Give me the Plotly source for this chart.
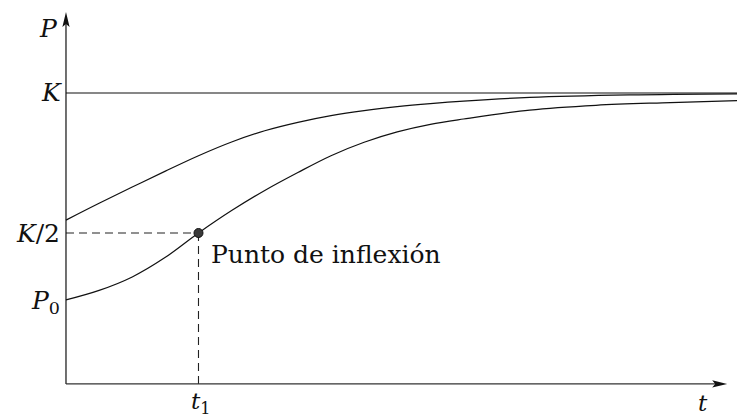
import plotly.graph_objects as go

# Logistic growth: two solutions approaching the carrying capacity K.
# P is expressed in units of K, t in arbitrary time units.
t_upper = [0, 0.5, 1, 1.5, 2, 2.5, 3, 3.5, 4, 4.5, 5, 5.5, 6, 7, 8.5, 10.2]
p_upper = [0.546, 0.606, 0.664, 0.721, 0.776, 0.825, 0.865, 0.895, 0.919,
           0.937, 0.951, 0.962, 0.971, 0.984, 0.993, 0.997]

t_lower = [0, 0.5, 1, 1.5, 2, 2.5, 3, 3.5, 4, 4.5, 5, 5.5, 6, 7, 8, 9, 10.2]
p_lower = [0.261, 0.295, 0.343, 0.413, 0.500, 0.580, 0.652, 0.716, 0.776,
           0.824, 0.861, 0.888, 0.907, 0.939, 0.956, 0.965, 0.973]

K = 1.0
t1 = 2.0            # time of the inflection point
P_half = K / 2
P0 = p_lower[0]

# axis extents
t_range = [-0.996, 10.128]
p_range = [-0.157, 1.332]
axis_p = -0.039      # height of the t axis
t_axis_end = 9.98
p_axis_end = 1.289

# pixel sizes converted into data units (66.25 px per t, 280 px per P)
PX_T = 66.25
PX_P = 280.0

FONT = "DejaVu Serif"
INK = "#111111"

fig = go.Figure()

# carrying capacity
fig.add_trace(go.Scatter(x=[0, t_range[1] + 0.5], y=[K, K], mode="lines",
                         line=dict(color=INK, width=1.1), hoverinfo="skip"))

# guide lines to the inflection point
fig.add_trace(go.Scatter(x=[0, t1], y=[P_half, P_half], mode="lines",
                         line=dict(color="#222222", width=1.1, dash="8px,5px"),
                         hoverinfo="skip"))
fig.add_trace(go.Scatter(x=[t1, t1], y=[P_half, axis_p], mode="lines",
                         line=dict(color="#222222", width=1.1, dash="8px,5px"),
                         hoverinfo="skip"))

# the two solution curves
fig.add_trace(go.Scatter(x=t_upper, y=p_upper, mode="lines",
                         line=dict(color=INK, width=1.2, shape="spline", smoothing=1.0),
                         hoverinfo="skip"))
fig.add_trace(go.Scatter(x=t_lower, y=p_lower, mode="lines",
                         line=dict(color=INK, width=1.2, shape="spline", smoothing=1.0),
                         hoverinfo="skip"))

# axes
fig.add_trace(go.Scatter(x=[0, 0], y=[axis_p, p_axis_end - 10 / PX_P], mode="lines",
                         line=dict(color=INK, width=1.2), hoverinfo="skip"))
fig.add_trace(go.Scatter(x=[0, t_axis_end - 10 / PX_T], y=[axis_p, axis_p], mode="lines",
                         line=dict(color="#333333", width=1.2), hoverinfo="skip"))

# inflection point marker
fig.add_trace(go.Scatter(x=[t1], y=[P_half], mode="markers",
                         marker=dict(size=9, color="#3a3a3a",
                                     line=dict(color="#111111", width=1)),
                         hoverinfo="skip"))

# arrow heads
hl, hw = 15.0, 3.6
fig.add_shape(type="path", xref="x", yref="y", fillcolor=INK, line=dict(width=0),
              path=(f"M{t_axis_end},{axis_p} "
                    f"L{t_axis_end - hl / PX_T},{axis_p + hw / PX_P} "
                    f"L{t_axis_end - 0.8 * hl / PX_T},{axis_p} "
                    f"L{t_axis_end - hl / PX_T},{axis_p - hw / PX_P} Z"))
fig.add_shape(type="path", xref="x", yref="y", fillcolor=INK, line=dict(width=0),
              path=(f"M0,{p_axis_end} "
                    f"L{hw / PX_T},{p_axis_end - hl / PX_P} "
                    f"L0,{p_axis_end - 0.8 * hl / PX_P} "
                    f"L{-hw / PX_T},{p_axis_end - hl / PX_P} Z"))

# labels
def label(x, y, text, xanchor="center", yanchor="middle", xshift=0, yshift=0, size=25):
    fig.add_annotation(x=x, y=y, xref="x", yref="y", text=text, showarrow=False,
                       xanchor=xanchor, yanchor=yanchor, xshift=xshift, yshift=yshift,
                       font=dict(family=FONT, size=size, color=INK))

label(0, p_axis_end, "<i>P</i>", xanchor="right", xshift=-6, yshift=-16)
label(0, K, "<i>K</i>", xanchor="right", xshift=-2)
label(0, P_half, "<i>K</i>/2", xanchor="right", xshift=-4)
label(0, P0, "<i>P</i><sub>0</sub>", xanchor="right", xshift=-4, yshift=-2)
label(t1, axis_p, "<i>t</i><sub>1</sub>", yanchor="middle", xshift=3, yshift=-19, size=23)
label(t_axis_end, axis_p, "<i>t</i>", yanchor="middle", xshift=-24, yshift=-19, size=23)
label(t1, P_half, "Punto de inflexión", xanchor="left", yanchor="top",
      xshift=11, yshift=-5, size=25)

fig.update_xaxes(range=t_range, visible=False, showgrid=False, zeroline=False)
fig.update_yaxes(range=p_range, visible=False, showgrid=False, zeroline=False)
fig.update_layout(width=737, height=417, margin=dict(l=0, r=0, t=0, b=0),
                  paper_bgcolor="white", plot_bgcolor="white", showlegend=False,
                  font=dict(family=FONT))

fig.write_html("out.html")
